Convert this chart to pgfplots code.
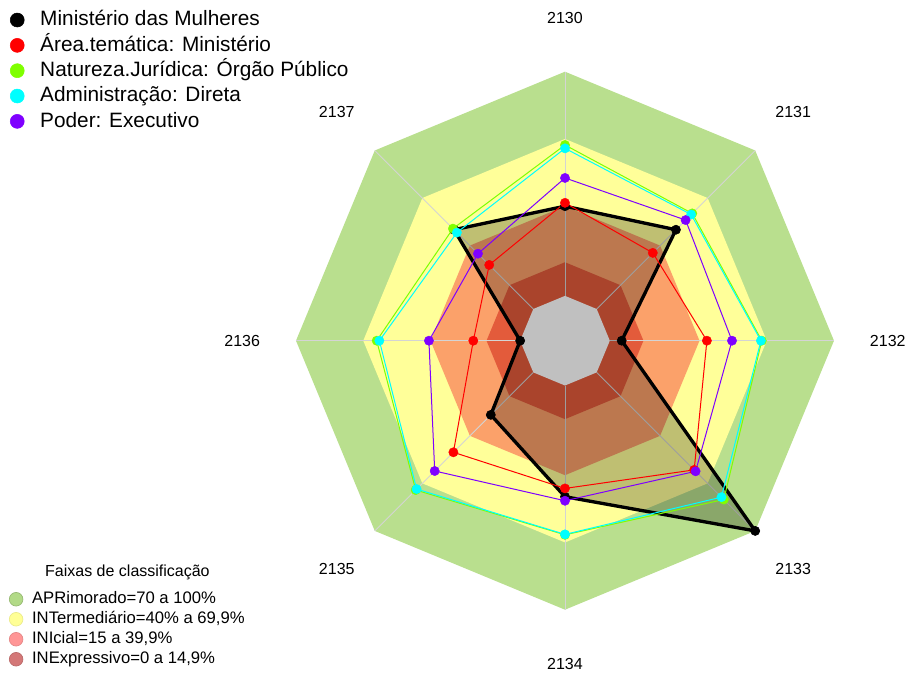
\documentclass[border=0pt]{standalone}
\usepackage{fontspec}
\setmainfont{Liberation Sans}
\usepackage{pgfplots}
\pgfplotsset{compat=1.18}
\usepackage{pgfplotstable}

\definecolor{bandapr}{RGB}{185,223,142}
\definecolor{bandint}{RGB}{255,255,153}
\definecolor{bandini}{RGB}{251,161,106}
\definecolor{bandine}{RGB}{227,91,59}
\definecolor{bandzero}{RGB}{192,192,192}
\definecolor{spoke}{RGB}{212,212,212}
\definecolor{sgreen}{RGB}{127,255,0}
\definecolor{scyan}{RGB}{0,255,255}
\definecolor{spurple}{RGB}{127,0,255}
\definecolor{lapr}{RGB}{178,218,135}
\definecolor{lint}{RGB}{255,255,150}
\definecolor{lini}{RGB}{255,150,150}
\definecolor{line}{RGB}{212,120,120}

% angle of each axis (2130 at top, clockwise) and the scores
\pgfplotstableread{
a    mm    at    nj    ad    pe
90   40    41.5  67.3  65.8  52.6
45   50    35.4  60.3  59.6  56.1
0    5.3   43.3  67.8  67.4  54.5
-45  100   61.5  80.2  78.7  62.4
-90  49.6  45.9  66.6  66.4  51.4
-135 26.8  50.4  74.2  73.6  62.2
180  0     20.9  64.0  62.8  40.7
135  50    27.8  50.7  48.2  34.9
}\scores

% classification bands (upper limits)
\pgfplotstableread{
a    apr  int  ini  ine  zero
90   100  70   40   15   0
45   100  70   40   15   0
0    100  70   40   15   0
-45  100  70   40   15   0
-90  100  70   40   15   0
-135 100  70   40   15   0
180  100  70   40   15   0
135  100  70   40   15   0
}\bands

\begin{document}
\begin{tikzpicture}
\begin{axis}[
  name=ax,
  scale only axis, width=680.25pt, height=504.75pt,
  xmin=-252.04, xmax=152.57, ymin=-148.24, ymax=151.98,
  hide axis, clip=false,
  legend image code/.code={\fill[#1] (0pt,0pt) circle (5.25pt); \path[draw=none,fill=none] (0pt,0pt) -- (17.25pt,0pt);},
  legend style={at={(0.011,0.9856)}, anchor=north west, draw=none, fill=none,
    inner sep=0pt, outer sep=0pt, row sep=3.5pt,
    font=\fontsize{15.6pt}{18pt}\selectfont,
    nodes={inner sep=0pt, text height=12pt, text depth=3.5pt}},
  legend cell align=left,
]
% bands
\addplot[fill=bandapr, draw=none, data cs=polar, forget plot] table[x=a, y expr=\thisrow{apr}+20] {\bands} -- cycle;
\addplot[fill=bandint, draw=none, data cs=polar, forget plot] table[x=a, y expr=\thisrow{int}+20] {\bands} -- cycle;
\addplot[fill=bandini, draw=none, data cs=polar, forget plot] table[x=a, y expr=\thisrow{ini}+20] {\bands} -- cycle;
\addplot[fill=bandine, draw=none, data cs=polar, forget plot] table[x=a, y expr=\thisrow{ine}+20] {\bands} -- cycle;
% spokes
\addplot[spoke, line width=0.6pt, data cs=polar, forget plot] coordinates {(90,20) (90,120)};
\addplot[spoke, line width=0.6pt, data cs=polar, forget plot] coordinates {(45,20) (45,120)};
\addplot[spoke, line width=0.6pt, data cs=polar, forget plot] coordinates {(0,20) (0,120)};
\addplot[spoke, line width=0.6pt, data cs=polar, forget plot] coordinates {(-45,20) (-45,120)};
\addplot[spoke, line width=0.6pt, data cs=polar, forget plot] coordinates {(-90,20) (-90,120)};
\addplot[spoke, line width=0.6pt, data cs=polar, forget plot] coordinates {(-135,20) (-135,120)};
\addplot[spoke, line width=0.6pt, data cs=polar, forget plot] coordinates {(180,20) (180,120)};
\addplot[spoke, line width=0.6pt, data cs=polar, forget plot] coordinates {(135,20) (135,120)};
% shaded area of the main series
\addplot[draw=none, fill=black, fill opacity=0.25, data cs=polar, forget plot]
  table[x=a, y expr=\thisrow{mm}+20] {\scores} -- cycle;
% grey centre
\addplot[fill=bandzero, draw=none, data cs=polar, forget plot] table[x=a, y expr=\thisrow{zero}+20] {\bands} -- cycle;
% series
\addplot[draw=black, line width=2.5pt, line join=round,
  mark=*, mark size=3.4pt, mark options={fill=black, line width=0.5pt},
  data cs=polar, forget plot] table[x=a, y expr=\thisrow{mm}+20] {\scores} -- cycle;
\addplot[draw=red, line width=0.75pt, mark=*, mark size=3.5pt, mark options={fill=red, line width=0.3pt},
  data cs=polar, forget plot] table[x=a, y expr=\thisrow{at}+20] {\scores} -- cycle;
\addplot[draw=sgreen, line width=0.75pt, mark=*, mark size=3.5pt, mark options={fill=sgreen, line width=0.3pt},
  data cs=polar, forget plot] table[x=a, y expr=\thisrow{nj}+20] {\scores} -- cycle;
\addplot[draw=scyan, line width=0.75pt, mark=*, mark size=3.5pt, mark options={fill=scyan, line width=0.3pt},
  data cs=polar, forget plot] table[x=a, y expr=\thisrow{ad}+20] {\scores} -- cycle;
\addplot[draw=spurple, line width=0.75pt, mark=*, mark size=3.5pt, mark options={fill=spurple, line width=0.3pt},
  data cs=polar, forget plot] table[x=a, y expr=\thisrow{pe}+20] {\scores} -- cycle;
% axis labels
\begin{scope}[font=\fontsize{12pt}{14pt}\selectfont]
\node at (axis cs:0,144) {2130};
\node at (axis cs:101.8,101.8) {2131};
\node at (axis cs:144,0) {2132};
\node at (axis cs:101.8,-101.8) {2133};
\node at (axis cs:0,-144) {2134};
\node at (axis cs:-101.8,-101.8) {2135};
\node at (axis cs:-144,0) {2136};
\node at (axis cs:-101.8,101.8) {2137};
\end{scope}
% legend
\addlegendimage{black}
\addlegendentry{Ministério das Mulheres}
\addlegendimage{red}
\addlegendentry{Área.temática: Ministério}
\addlegendimage{sgreen}
\addlegendentry{Natureza.Jurídica: Órgão Público}
\addlegendimage{scyan}
\addlegendentry{Administração: Direta}
\addlegendimage{spurple}
\addlegendentry{Poder: Executivo}
\end{axis}

\begin{axis}[
  scale only axis, width=680.25pt, height=504.75pt,
  xmin=-252.04, xmax=152.57, ymin=-148.24, ymax=151.98,
  hide axis, clip=false,
  legend image code/.code={\filldraw[#1, line width=0.5pt] (0pt,0pt) circle (5.1pt); \path[draw=none,fill=none] (0pt,0pt) -- (12pt,0pt);},
  legend style={at={(0.0099,0.1218)}, anchor=north west, draw=none, fill=none,
    inner sep=0pt, outer sep=0pt, row sep=2.7pt,
    font=\fontsize{12.5pt}{14pt}\selectfont,
    nodes={inner sep=0pt, text height=9.6pt, text depth=2.7pt}},
  legend cell align=left,
]
\node[font=\fontsize{12pt}{14pt}\selectfont] at (axis cs:-195.2,-103.5) {Faixas de classificação};
\addlegendimage{fill=lapr, draw=lapr!85!black}
\addlegendentry{APRimorado=70 a 100\%}
\addlegendimage{fill=lint, draw=lint!92!black}
\addlegendentry{INTermediário=40\% a 69,9\%}
\addlegendimage{fill=lini, draw=lini!90!black}
\addlegendentry{INIcial=15 a 39,9\%}
\addlegendimage{fill=line, draw=line!88!black}
\addlegendentry{INExpressivo=0 a 14,9\%}
\end{axis}
\pgfresetboundingbox
\path[use as bounding box] (ax.south west) rectangle (ax.north east);
\end{tikzpicture}
\end{document}
